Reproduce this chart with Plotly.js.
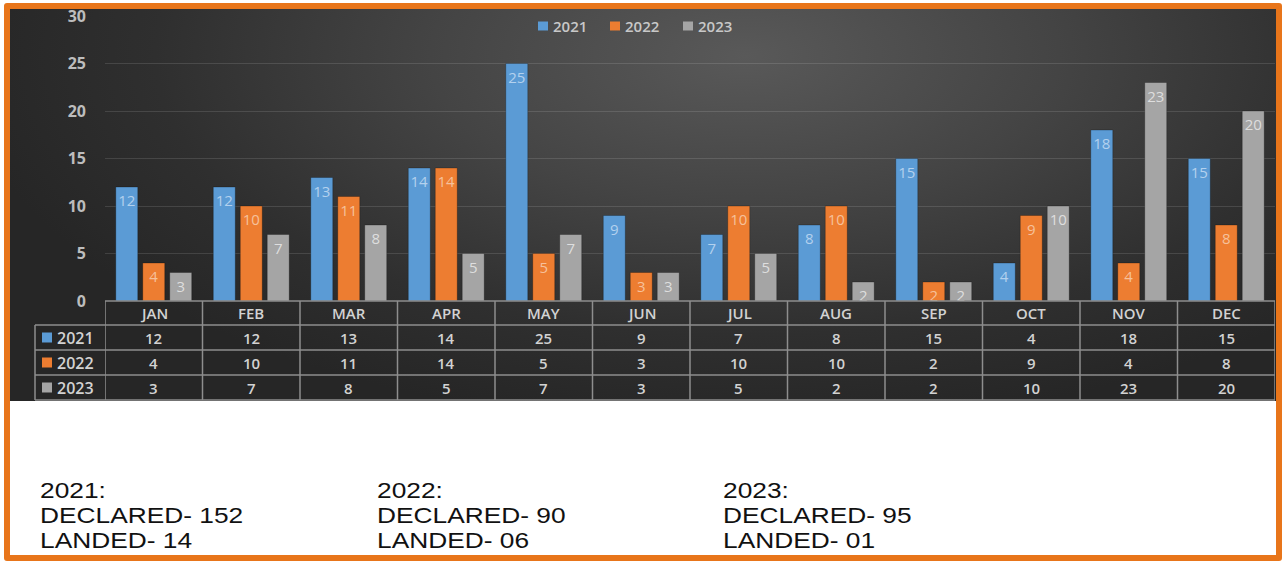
<!DOCTYPE html>
<html>
<head>
<meta charset="utf-8">
<script src="https://cdn.plot.ly/plotly-3.0.1.min.js"></script>
<style>
  html, body { margin: 0; padding: 0; background: #ffffff; overflow: hidden; }
  #wrap { position: relative; width: 1282px; height: 561px; background: #ffffff; }
  #frame { position: absolute; left: 4px; top: 3px; width: 1278px; height: 558px;
           box-sizing: border-box; border: 6px solid #E8751A; border-radius: 3px; }
  #dark { position: absolute; left: 10px; top: 9px; width: 1267px; height: 392px;
          background: radial-gradient(ellipse 62% 95% at 58% 12%, #595959 0%, #444444 40%, #2f2f2f 75%, #262626 100%); }
  #chart { position: absolute; left: 0; top: 0; width: 1282px; height: 561px; }
  .summary { position: absolute; top: 478px; font-family: "Liberation Sans", Arial, sans-serif;
             font-size: 22.3px; line-height: 25px; color: #111111; white-space: nowrap;
             transform: scaleX(1.18); transform-origin: 0 0; }
  .summary div { height: 25px; }
</style>
</head>
<body>
<div id="wrap">
  <div id="dark"></div>
  <div id="frame"></div>
  <div id="chart"></div>
</div>
<script>
// ---- data ----
const months = ["JAN","FEB","MAR","APR","MAY","JUN","JUL","AUG","SEP","OCT","NOV","DEC"];
const seriesNames = ["2021","2022","2023"];
const values2021 = [12,12,13,14,25,9,7,8,15,4,18,15];
const values2022 = [4,10,11,14,5,3,10,10,2,9,4,8];
const values2023 = [3,7,8,5,7,3,5,2,2,10,23,20];
const summaryYears = ["2021","2022","2023"];
const declared = ["152","90","95"];
const landed = ["14","06","01"];

// ---- styles ----
const colors = ["#5B9BD5","#ED7D31","#A5A5A5"];
const labelColors = ["#b3d1ee","#f6c19b","#dedede"];
const W = 1282, H = 561;
const M = {l:105, r:7, t:16, b:260};
const plotH = H - M.t - M.b, plotW = W - M.l - M.r;
const py = p => (H - M.b - p) / plotH;   // pixel y -> paper
const px = p => (p - M.l) / plotW;       // pixel x -> paper

const allValues = [values2021, values2022, values2023];
const traces = allValues.map((vals, i) => ({
  type: "bar",
  name: seriesNames[i],
  x: months,
  y: vals,
  marker: {color: colors[i], line: {color: "rgba(0,0,0,0.25)", width: 1}},
  text: vals.map(String),
  textposition: "inside",
  insidetextanchor: "end",
  constraintext: "none",
  textangle: 0,
  textfont: {family: "Open Sans", size: 15, color: labelColors[i]},
  hoverinfo: "skip",
  showlegend: false
}));

const lineStyle = {color: "#8e8e8e", width: 1.5};
const shapes = [];
const annotations = [];
const tableTop = 301, rowLines = [325, 350, 375, 400];
const rowCenters = [337.5, 362.5, 387.5];
const leftEdge = 35;

// header top line
shapes.push({type: "line", xref: "paper", yref: "paper", x0: 0, x1: 1, y0: py(tableTop), y1: py(tableTop), line: lineStyle});
rowLines.forEach(p => shapes.push({type: "line", xref: "paper", yref: "paper", x0: px(leftEdge), x1: 1, y0: py(p), y1: py(p), line: lineStyle}));
for (let k = 0; k <= months.length; k++) {
  shapes.push({type: "line", xref: "x", yref: "paper", x0: k - 0.5, x1: k - 0.5, y0: py(tableTop), y1: py(400), line: lineStyle});
}
shapes.push({type: "line", xref: "paper", yref: "paper", x0: px(leftEdge), x1: px(leftEdge), y0: py(325), y1: py(400), line: lineStyle});

const cellFont = {family: "Open Sans", size: 15, color: "#d2d2d2", weight: 600};
months.forEach((m, i) => {
  annotations.push({xref: "x", yref: "paper", x: m, y: py(313), text: m, showarrow: false, font: cellFont, xanchor: "center", yanchor: "middle"});
  allValues.forEach((vals, r) => {
    annotations.push({xref: "x", yref: "paper", x: m, y: py(rowCenters[r]), text: String(vals[i]), showarrow: false, font: cellFont, xanchor: "center", yanchor: "middle"});
  });
});
seriesNames.forEach((s, r) => {
  shapes.push({type: "rect", xref: "paper", yref: "paper", x0: px(42), x1: px(52), y0: py(rowCenters[r] + 5), y1: py(rowCenters[r] - 5), fillcolor: colors[r], line: {width: 0}});
  annotations.push({xref: "paper", yref: "paper", x: px(55), y: py(rowCenters[r]), text: s, showarrow: false, font: {family: "Open Sans", size: 16, color: "#d2d2d2", weight: 600}, xanchor: "left", yanchor: "middle"});
});

// top legend (drawn manually)
const legSwatchX = [538, 610, 683];
seriesNames.forEach((s, i) => {
  shapes.push({type: "rect", xref: "paper", yref: "paper", x0: px(legSwatchX[i]), x1: px(legSwatchX[i] + 10), y0: py(30.5), y1: py(21.5), fillcolor: colors[i], line: {width: 0}});
  annotations.push({xref: "paper", yref: "paper", x: px(legSwatchX[i] + 13), y: py(26), text: s, showarrow: false, font: {family: "Open Sans", size: 15, color: "#c8c8c8", weight: 600}, xanchor: "left", yanchor: "middle"});
});

const layout = {
  width: W, height: H,
  margin: {l: M.l, r: M.r, t: M.t, b: M.b, pad: 0},
  paper_bgcolor: "rgba(0,0,0,0)",
  plot_bgcolor: "rgba(0,0,0,0)",
  barmode: "group",
  bargap: 0.17,
  bargroupgap: 0.185,
  showlegend: false,
  xaxis: {type: "category", range: [-0.5, 11.5], showticklabels: false, showgrid: false, zeroline: false, showline: false, fixedrange: true},
  yaxis: {range: [0, 30], dtick: 5, showgrid: true, gridcolor: "rgba(255,255,255,0.12)", gridwidth: 1,
          zeroline: false, showline: false, ticks: "", ticklabelstandoff: 18,
          tickfont: {family: "Open Sans", size: 16, color: "#bdbdbd", weight: 700}, fixedrange: true},
  shapes: shapes,
  annotations: annotations
};

Plotly.newPlot("chart", traces, layout, {displayModeBar: false, staticPlot: true});

// summary text block below the chart
const sumX = [40, 377, 723];
const wrap = document.getElementById("wrap");
summaryYears.forEach((y, i) => {
  const box = document.createElement("div");
  box.className = "summary";
  box.style.left = sumX[i] + "px";
  [y + ":", "DECLARED- " + declared[i], "LANDED- " + landed[i]].forEach(t => {
    const line = document.createElement("div");
    line.textContent = t;
    box.appendChild(line);
  });
  wrap.appendChild(box);
});
</script>
</body>
</html>
